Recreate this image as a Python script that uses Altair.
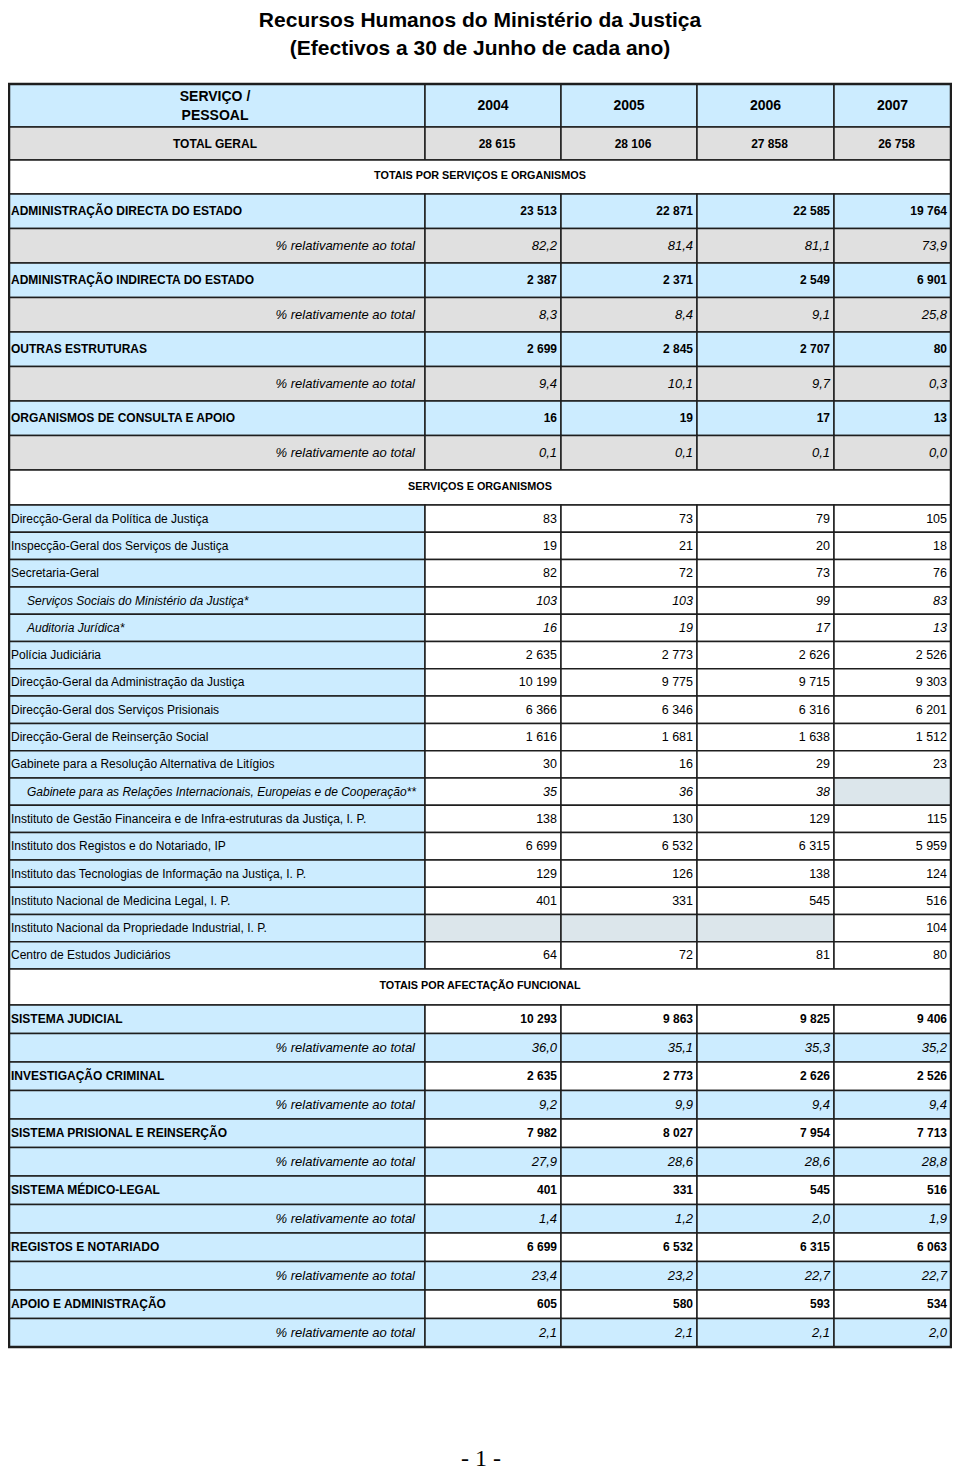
import altair as alt
import pandas as pd

# ---------------- data ----------------
title_lines = ["Recursos Humanos do Ministério da Justiça",
               "(Efectivos a 30 de Junho de cada ano)"]
header_label = ["SERVIÇO /", "PESSOAL"]
years = ["2004", "2005", "2006", "2007"]
total_label = "TOTAL GERAL"
total_geral = [28615, 28106, 27858, 26758]
section_titles = ["TOTAIS POR SERVIÇOS E ORGANISMOS",
                  "SERVIÇOS E ORGANISMOS",
                  "TOTAIS POR AFECTAÇÃO FUNCIONAL"]
pct_label = "% relativamente ao total"

group_names = ["ADMINISTRAÇÃO DIRECTA DO ESTADO",
               "ADMINISTRAÇÃO INDIRECTA DO ESTADO",
               "OUTRAS ESTRUTURAS",
               "ORGANISMOS DE CONSULTA E APOIO"]
group_vals = [[23513, 22871, 22585, 19764],
              [2387, 2371, 2549, 6901],
              [2699, 2845, 2707, 80],
              [16, 19, 17, 13]]
group_pct = [[82.2, 81.4, 81.1, 73.9],
             [8.3, 8.4, 9.1, 25.8],
             [9.4, 10.1, 9.7, 0.3],
             [0.1, 0.1, 0.1, 0.0]]

service_names = ["Direcção-Geral da Política de Justiça",
                 "Inspecção-Geral dos Serviços de Justiça",
                 "Secretaria-Geral",
                 "Serviços Sociais do Ministério da Justiça*",
                 "Auditoria Jurídica*",
                 "Polícia Judiciária",
                 "Direcção-Geral da Administração da Justiça",
                 "Direcção-Geral dos Serviços Prisionais",
                 "Direcção-Geral de Reinserção Social",
                 "Gabinete para a Resolução Alternativa de Litígios",
                 "Gabinete para as Relações Internacionais, Europeias e de Cooperação**",
                 "Instituto de Gestão Financeira e de Infra-estruturas da Justiça, I. P.",
                 "Instituto dos Registos e do Notariado, IP",
                 "Instituto das Tecnologias de Informação na Justiça, I. P.",
                 "Instituto Nacional de Medicina Legal, I. P.",
                 "Instituto Nacional da Propriedade Industrial, I. P.",
                 "Centro de Estudos Judiciários"]
service_vals = [[83, 73, 79, 105],
                [19, 21, 20, 18],
                [82, 72, 73, 76],
                [103, 103, 99, 83],
                [16, 19, 17, 13],
                [2635, 2773, 2626, 2526],
                [10199, 9775, 9715, 9303],
                [6366, 6346, 6316, 6201],
                [1616, 1681, 1638, 1512],
                [30, 16, 29, 23],
                [35, 36, 38, None],
                [138, 130, 129, 115],
                [6699, 6532, 6315, 5959],
                [129, 126, 138, 124],
                [401, 331, 545, 516],
                [None, None, None, 104],
                [64, 72, 81, 80]]
service_italic = [False, False, False, True, True, False, False, False, False,
                  False, True, False, False, False, False, False, False]

func_names = ["SISTEMA JUDICIAL",
              "INVESTIGAÇÃO CRIMINAL",
              "SISTEMA PRISIONAL E REINSERÇÃO",
              "SISTEMA MÉDICO-LEGAL",
              "REGISTOS E NOTARIADO",
              "APOIO E ADMINISTRAÇÃO"]
func_vals = [[10293, 9863, 9825, 9406],
             [2635, 2773, 2626, 2526],
             [7982, 8027, 7954, 7713],
             [401, 331, 545, 516],
             [6699, 6532, 6315, 6063],
             [605, 580, 593, 534]]
func_pct = [[36.0, 35.1, 35.3, 35.2],
            [9.2, 9.9, 9.4, 9.4],
            [27.9, 28.6, 28.6, 28.8],
            [1.4, 1.2, 2.0, 1.9],
            [23.4, 23.2, 22.7, 22.7],
            [2.1, 2.1, 2.1, 2.0]]
page_label = "- 1 -"


def fmt_int(v):
    return "" if v is None else f"{v:,}".replace(",", " ")


def fmt_pct(v):
    return f"{v:.1f}".replace(".", ",")


# ---------------- layout ----------------
BLUE = "#CCECFF"
GREY = "#E0E0E0"
WHITE = "#FFFFFF"
HATCH = "#DCE6EB"
COLS = [9, 425, 561, 697, 834, 951]
LEFT_PAD = 11
INDENT = 27
LABEL_RIGHT = 415
VAL_PAD = 4

cells = []
texts = []


def add_cell(x0, x1, y0, y1, fill):
    cells.append(dict(x0=x0, x1=x1, y0=y0, y1=y1, fill=fill))


def add_text(x, y, t, style):
    texts.append(dict(x=x, y=y, text=t, style=style))


y = 84
# header
h = 43
for c in range(5):
    add_cell(COLS[c], COLS[c + 1], y, y + h, BLUE)
cx0 = (COLS[0] + COLS[1]) / 2
add_text(cx0 - 2, y + 13, header_label[0], "hdr")
add_text(cx0 - 2, y + 32, header_label[1], "hdr")
for i, yr in enumerate(years):
    add_text((COLS[i + 1] + COLS[i + 2]) / 2, y + 22, yr, "hdr")
y += h
# total
h = 33
for c in range(5):
    add_cell(COLS[c], COLS[c + 1], y, y + h, GREY)
add_text(cx0 - 2, y + h / 2, total_label, "bc")
for i, v in enumerate(total_geral):
    add_text((COLS[i + 1] + COLS[i + 2]) / 2 + 4, y + h / 2, fmt_int(v), "bc")
y += h


def section(title, h):
    global y
    add_cell(COLS[0], COLS[-1], y, y + h, WHITE)
    add_text(480, y + h / 2 - 1, title, "sec")
    y += h


section(section_titles[0], 34)
h = 34.5
for name, vals, pcts in zip(group_names, group_vals, group_pct):
    for c in range(5):
        add_cell(COLS[c], COLS[c + 1], y, y + h, BLUE)
    add_text(LEFT_PAD, y + h / 2, name, "bl")
    for i, v in enumerate(vals):
        add_text(COLS[i + 2] - VAL_PAD, y + h / 2, fmt_int(v), "br")
    y += h
    for c in range(5):
        add_cell(COLS[c], COLS[c + 1], y, y + h, GREY)
    add_text(LABEL_RIGHT, y + h / 2, pct_label, "ir")
    for i, v in enumerate(pcts):
        add_text(COLS[i + 2] - VAL_PAD, y + h / 2, fmt_pct(v), "ir")
    y += h

section(section_titles[1], 35)
h = 27.3
for name, vals, it in zip(service_names, service_vals, service_italic):
    add_cell(COLS[0], COLS[1], y, y + h, BLUE)
    add_text(INDENT if it else LEFT_PAD, y + h / 2, name, "il" if it else "nl")
    for i, v in enumerate(vals):
        add_cell(COLS[i + 1], COLS[i + 2], y, y + h, HATCH if v is None else WHITE)
        if v is not None:
            add_text(COLS[i + 2] - VAL_PAD, y + h / 2, fmt_int(v), "ivr" if it else "nr")
    y += h

section(section_titles[2], 36)
h = 28.5
for name, vals, pcts in zip(func_names, func_vals, func_pct):
    add_cell(COLS[0], COLS[1], y, y + h, BLUE)
    for c in range(1, 5):
        add_cell(COLS[c], COLS[c + 1], y, y + h, WHITE)
    add_text(LEFT_PAD, y + h / 2, name, "bl")
    for i, v in enumerate(vals):
        add_text(COLS[i + 2] - VAL_PAD, y + h / 2, fmt_int(v), "br")
    y += h
    for c in range(5):
        add_cell(COLS[c], COLS[c + 1], y, y + h, BLUE)
    add_text(LABEL_RIGHT, y + h / 2, pct_label, "ir")
    for i, v in enumerate(pcts):
        add_text(COLS[i + 2] - VAL_PAD, y + h / 2, fmt_pct(v), "ir")
    y += h
table_bottom = y

add_text(480, 21, title_lines[0], "title")
add_text(480, 49, title_lines[1], "title")
add_text(481, 1459, page_label, "page")

cells_df = pd.DataFrame(cells)
texts_df = pd.DataFrame(texts)
outline_df = pd.DataFrame([dict(x0=COLS[0], x1=COLS[-1], y0=84, y1=table_bottom)])

W, H = 944, 1463
xs = alt.Scale(domain=[8, 8 + W], range=[0, W], nice=False, zero=False)
ys = alt.Scale(domain=[8, 8 + H], range=[0, H], nice=False, zero=False)

FONT = "Liberation Sans"
STYLES = {
    "title": dict(font=FONT, fontSize=21, fontWeight="bold", align="center"),
    "hdr": dict(font=FONT, fontSize=14, fontWeight="bold", align="center"),
    "bc": dict(font=FONT, fontSize=12, fontWeight="bold", align="center"),
    "sec": dict(font=FONT, fontSize=10.8, fontWeight="bold", align="center"),
    "bl": dict(font=FONT, fontSize=12, fontWeight="bold", align="left"),
    "br": dict(font=FONT, fontSize=12, fontWeight="bold", align="right"),
    "nl": dict(font=FONT, fontSize=12, align="left"),
    "nr": dict(font=FONT, fontSize=12.5, align="right"),
    "il": dict(font=FONT, fontSize=12, fontStyle="italic", align="left"),
    "ivr": dict(font=FONT, fontSize=12.5, fontStyle="italic", align="right"),
    "ir": dict(font=FONT, fontSize=13, fontStyle="italic", align="right"),
    "page": dict(font="Liberation Serif", fontSize=24, align="center"),
}

rects = alt.Chart(cells_df).mark_rect(stroke="#1e1e1e", strokeWidth=1.5).encode(
    x=alt.X("x0:Q", scale=xs, axis=None),
    x2="x1:Q",
    y=alt.Y("y0:Q", scale=ys, axis=None),
    y2="y1:Q",
    fill=alt.Fill("fill:N", scale=None),
)
outline = alt.Chart(outline_df).mark_rect(fillOpacity=0, stroke="#1e1e1e", strokeWidth=2.5).encode(
    x=alt.X("x0:Q", scale=xs, axis=None),
    x2="x1:Q",
    y=alt.Y("y0:Q", scale=ys, axis=None),
    y2="y1:Q",
)

layers = [rects, outline]
for key, st in STYLES.items():
    sub = texts_df[texts_df["style"] == key]
    if sub.empty:
        continue
    layers.append(
        alt.Chart(sub).mark_text(baseline="middle", color="#000000", **st).encode(
            x=alt.X("x:Q", scale=xs, axis=None),
            y=alt.Y("y:Q", scale=ys, axis=None),
            text="text:N",
        )
    )

chart = alt.layer(*layers).properties(
    width=W, height=H, padding=0, autosize="none"
).configure_view(stroke=None)

chart.save("out.html", embed_options={"renderer": "svg", "actions": False})
